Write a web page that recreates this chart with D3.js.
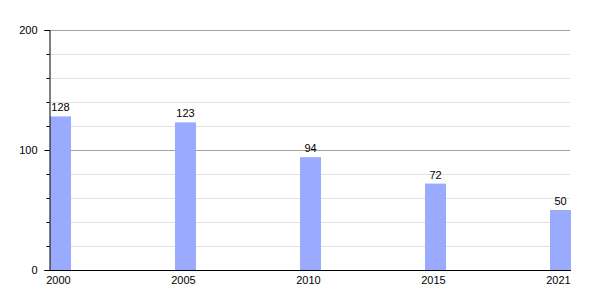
<!DOCTYPE html>
<html>
<head>
<meta charset="utf-8">
<script src="https://cdn.jsdelivr.net/npm/d3@7"></script>
<style>
  body { margin: 0; background: #fff; }
  text { font-family: "Liberation Sans", Arial, sans-serif; font-size: 11px; fill: #000; }
</style>
</head>
<body>
<div id="chart"></div>
<script>
const years = ["2000", "2005", "2010", "2015", "2021"]
const values = [128, 123, 94, 72, 50]
const majorTicks = [0, 100, 200]
const minorTicks = [20, 40, 60, 80, 120, 140, 160, 180]

const WIDTH = 600
const HEIGHT = 300
const MARGINS = {left: 50, right: 29, top: 30, bottom: 30}
const BAR_WIDTH = 21

const svg = d3.select("#chart")
  .append("svg")
  .attr("width", WIDTH)
  .attr("height", HEIGHT)

const plotRight = WIDTH - MARGINS.right // 571

const x = d3.scalePoint()
  .domain(years)
  .range([MARGINS.left, plotRight - BAR_WIDTH])

const y = d3.scaleLinear()
  .domain([0, 200])
  .range([HEIGHT - MARGINS.bottom, MARGINS.top])

// minor grid lines
svg.append("g").selectAll("line")
  .data(minorTicks).enter()
  .append("line")
  .attr("x1", MARGINS.left)
  .attr("x2", plotRight - 1)
  .attr("y1", d => y(d) + 0.5)
  .attr("y2", d => y(d) + 0.5)
  .attr("stroke", "#e2e2e2")
  .attr("stroke-width", 1)

// major grid lines
svg.append("g").selectAll("line")
  .data(majorTicks.filter(d => d > 0)).enter()
  .append("line")
  .attr("x1", MARGINS.left)
  .attr("x2", plotRight - 1)
  .attr("y1", d => y(d) + 0.5)
  .attr("y2", d => y(d) + 0.5)
  .attr("stroke", "#a0a0a0")
  .attr("stroke-width", 1)

// bars
svg.append("g").selectAll("rect")
  .data(values).enter()
  .append("rect")
  .attr("x", (_, i) => x(years[i]))
  .attr("y", d => y(d))
  .attr("width", BAR_WIDTH)
  .attr("height", d => y(0) - y(d))
  .attr("fill", "#99aaff")

// value labels
svg.append("g").selectAll("text")
  .data(values).enter()
  .append("text")
  .attr("x", (_, i) => x(years[i]) + BAR_WIDTH / 2)
  .attr("y", d => y(d) - 5)
  .attr("text-anchor", "middle")
  .text(d => d)

// y axis: major ticks
const yAxis = svg.append("g")
  .attr("transform", `translate(${MARGINS.left - 0.5},0)`)
  .call(d3.axisLeft(y).tickValues(majorTicks).tickSize(5).tickPadding(7))
yAxis.select(".domain").attr("stroke", "#000")
yAxis.selectAll(".tick line").attr("stroke", "#000")
yAxis.selectAll(".tick text").attr("font-size", 11).attr("font-family", null).attr("fill", "#000")

// y axis: minor ticks
svg.append("g")
  .attr("transform", `translate(${MARGINS.left - 0.5},0)`)
  .call(d3.axisLeft(y).tickValues(minorTicks).tickSize(3).tickFormat(""))
  .call(g => g.select(".domain").remove())
  .selectAll(".tick line").attr("stroke", "#000")

// x axis line
svg.append("line")
  .attr("x1", MARGINS.left - 5)
  .attr("x2", plotRight)
  .attr("y1", y(0) + 0.5)
  .attr("y2", y(0) + 0.5)
  .attr("stroke", "#000")

// x labels
svg.append("g").selectAll("text")
  .data(years).enter()
  .append("text")
  .attr("x", d => x(d) + BAR_WIDTH / 2 - 2)
  .attr("y", y(0) + 14)
  .attr("text-anchor", "middle")
  .text(d => d)
</script>
</body>
</html>
